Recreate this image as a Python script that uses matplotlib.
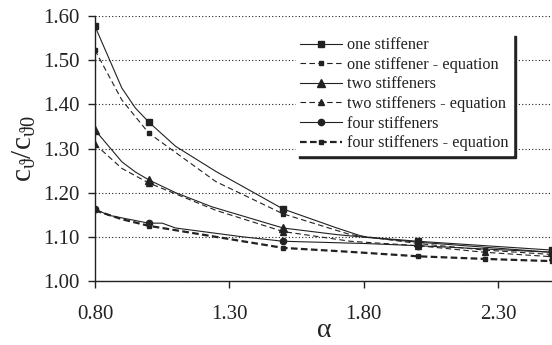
import matplotlib
matplotlib.use('Agg')
import matplotlib.pyplot as plt

# ----------------- data -----------------
one_x = [0.80, 0.90, 0.95, 1.00, 1.10, 1.25, 1.50, 1.70, 1.80, 2.00, 2.50]
one_y = [1.577, 1.437, 1.392, 1.360, 1.305, 1.248, 1.163, 1.120, 1.100, 1.090, 1.070]

one_eq_x = [0.80, 0.90, 1.00, 1.25, 1.50, 1.75, 2.00, 2.25, 2.50]
one_eq_y = [1.523, 1.410, 1.335, 1.225, 1.152, 1.105, 1.085, 1.070, 1.060]

two_x = [0.80, 0.90, 0.95, 1.00, 1.10, 1.235, 1.50, 1.70, 2.00, 2.50]
two_y = [1.342, 1.270, 1.247, 1.229, 1.200, 1.168, 1.120, 1.105, 1.088, 1.065]

two_eq_x = [0.80, 0.90, 1.00, 1.25, 1.50, 1.75, 2.00, 2.25, 2.50]
two_eq_y = [1.310, 1.255, 1.222, 1.160, 1.112, 1.090, 1.080, 1.065, 1.055]

four_x = [0.80, 0.85, 1.00, 1.05, 1.10, 1.35, 1.50, 1.80, 2.00, 2.50]
four_y = [1.163, 1.149, 1.131, 1.131, 1.120, 1.100, 1.090, 1.085, 1.080, 1.065]

four_eq_x = [0.80, 0.90, 1.00, 1.25, 1.50, 1.75, 2.00, 2.25, 2.50]
four_eq_y = [1.160, 1.140, 1.125, 1.100, 1.075, 1.066, 1.056, 1.050, 1.045]

x_ticks = [0.80, 1.30, 1.80, 2.30]
y_ticks = [1.00, 1.10, 1.20, 1.30, 1.40, 1.50, 1.60]

plt.rcParams['font.family'] = ['Liberation Serif', 'DejaVu Serif']
plt.rcParams['mathtext.fontset'] = 'custom'
plt.rcParams['mathtext.rm'] = 'Liberation Serif'
plt.rcParams['mathtext.it'] = 'Liberation Serif'

ink = '#222222'

fig = plt.figure(figsize=(5.52, 3.45), dpi=100)
ax = fig.add_axes([0.172, 0.1855, 0.828, 0.768])

# measured series (solid) - markers only at the computed points
ax.plot(one_x, one_y, color=ink, lw=0.8, marker='s', ms=5,
        markevery=[0, 3, 6, 9, 10], label='one stiffener')
ax.plot(one_eq_x, one_eq_y, color=ink, lw=0.8, ls=(0, (5, 3)), marker='s', ms=3,
        markevery=[0, 2, 4, 6, 7, 8], label='one stiffener - equation')
ax.plot(two_x, two_y, color=ink, lw=0.8, marker='^', ms=5.5,
        markevery=[0, 3, 6, 8, 9], label='two stiffeners')
ax.plot(two_eq_x, two_eq_y, color=ink, lw=0.8, ls=(0, (5, 3)), marker='^', ms=4,
        markevery=[0, 2, 4, 6, 7, 8], label='two stiffeners - equation')
ax.plot(four_x, four_y, color=ink, lw=0.8, marker='o', ms=4.5,
        markevery=[0, 2, 6, 8, 9], label='four stiffeners')
ax.plot(four_eq_x, four_eq_y, color=ink, lw=1.6, ls=(0, (3, 1.5)), marker='s', ms=3.5,
        markevery=[0, 2, 4, 6, 7, 8], label='four stiffeners - equation')

ax.set_xlim(0.8, 2.5)
ax.set_ylim(1.0, 1.6)
ax.set_xticks(x_ticks)
ax.set_xticklabels(['%.2f' % v for v in x_ticks])
ax.set_yticks(y_ticks)
ax.set_yticklabels(['%.2f' % v for v in y_ticks])

ax.yaxis.grid(True, color=ink, ls=(0, (1, 2)), lw=0.8)
ax.set_axisbelow(True)
for s in ['top', 'right']:
    ax.spines[s].set_visible(False)
for s in ['left', 'bottom']:
    ax.spines[s].set_color(ink)
    ax.spines[s].set_linewidth(1.0)

ax.tick_params(axis='both', direction='out', length=5, width=1.0, color=ink,
               labelsize=15, labelcolor=ink)
ax.tick_params(axis='x', pad=12)
ax.tick_params(axis='y', pad=6)

ax.set_xlabel(r'$\alpha$', fontsize=20, color=ink, labelpad=-4)
ax.set_ylabel(r'$\mathregular{c_{\vartheta}/c_{\vartheta 0}}$', fontsize=21, color=ink, labelpad=4)

leg = ax.legend(loc='upper left', bbox_to_anchor=(0.44, 0.935), fontsize=11.7,
                frameon=True, fancybox=False, edgecolor='white', facecolor='white',
                framealpha=1, handlelength=2.6, handletextpad=0.3,
                labelspacing=0.22, borderpad=0.25, borderaxespad=0,
                shadow={'color': ink, 'alpha': 1, 'ox': 2.2, 'oy': -2.2})
for t in leg.get_texts():
    t.set_color(ink)

fig.savefig('out.png', dpi=100)
